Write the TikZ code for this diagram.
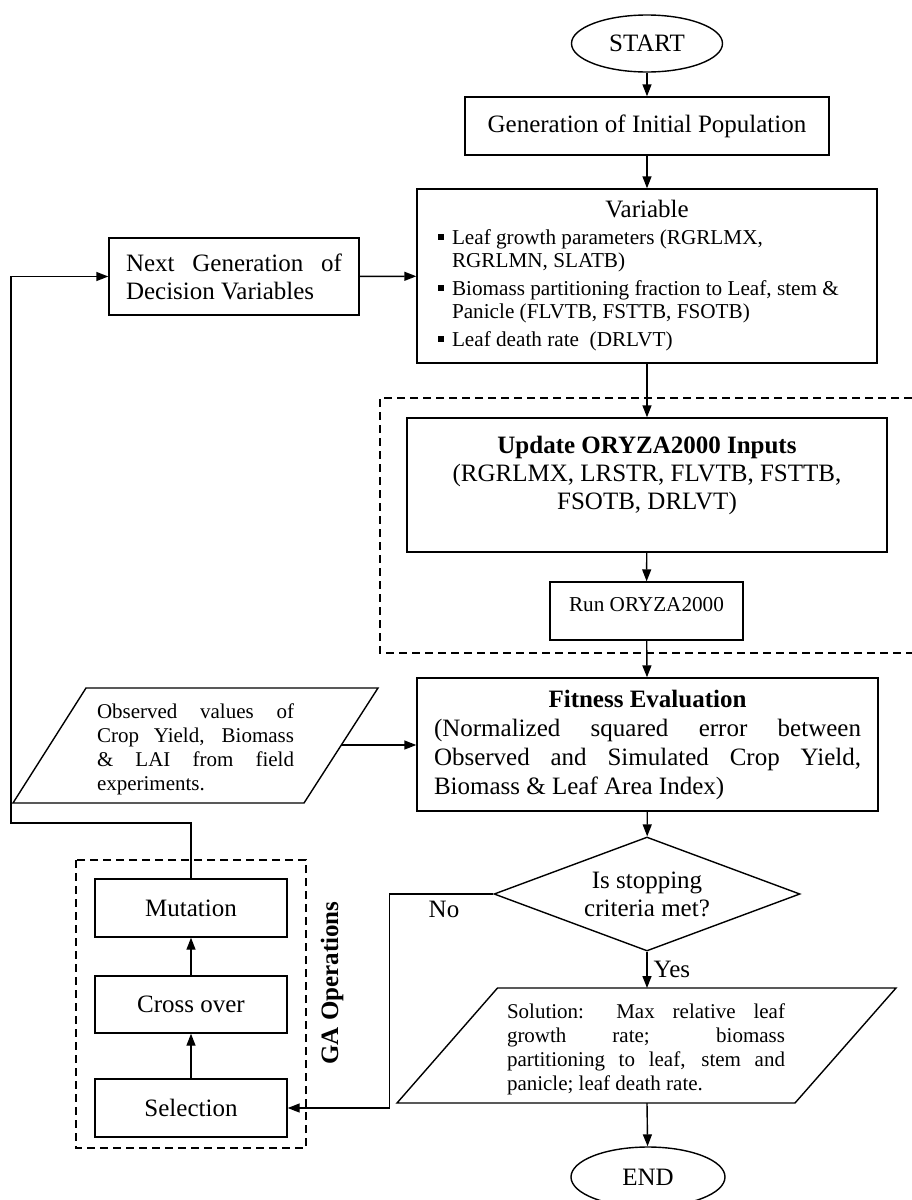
\documentclass[tikz,border=0pt]{standalone}
\usepackage{fontspec}
\setmainfont{Liberation Serif}
\usetikzlibrary{shapes.geometric,arrows.meta}

\newcommand{\mainsize}{\fontsize{12.5pt}{14pt}\selectfont}
\newcommand{\smallsize}{\fontsize{10.5pt}{12pt}\selectfont}
\newcommand{\itemsize}{\fontsize{10.6pt}{11.5pt}\selectfont}
\newcommand{\sqbul}{\makebox[7pt][l]{\rule[2.5pt]{3.2pt}{3.2pt}}}

\tikzset{
	box/.style={draw, line width=0.7pt, font=\mainsize, inner sep=0pt},
	term/.style={ellipse, draw, line width=0.7pt, font=\mainsize, inner sep=0pt},
	conn/.style={-{Triangle[length=6pt,width=4.5pt]}, line width=0.7pt},
	plain/.style={line width=0.7pt},
	dashbox/.style={line width=0.7pt, dash pattern=on 4pt off 2.5pt}
}

\begin{document}
\begin{tikzpicture}[x=0.5pt, y=-0.5pt]
			\useasboundingbox (0,0) rectangle (911,1200);
			% main column
			\node[term, minimum width=75.5pt, minimum height=28.5pt] (start) at (647,43.5) {START};
			\node[box, minimum width=182pt, minimum height=29pt] (gen) at (647,126) {Generation of Initial Population};
			\node[box, minimum width=230pt, minimum height=87pt] (var) at (647,276) {\parbox{209pt}{\raggedright
				\hfill Variable\hfill\null\par\vspace{2pt}
				{\itemsize \sqbul Leaf growth parameters (RGRLMX,\\\hspace*{7pt}RGRLMN, SLATB)\par\vspace{2.5pt}
				\sqbul Biomass partitioning fraction to Leaf, stem \&\\\hspace*{7pt}Panicle (FLVTB, FSTTB, FSOTB)\par\vspace{2.5pt}
				\sqbul Leaf death rate\ \ (DRLVT)\par}}};
			\node[box, minimum width=125pt, minimum height=38.5pt, text width=108pt, align=justify] (next) at (234,276.5) {Next Generation of\linebreak Decision Variables};
			\node[box, minimum width=240pt, minimum height=67pt, align=center] (upd) at (647,485) {\textbf{Update ORYZA2000 Inputs}\\(RGRLMX, LRSTR, FLVTB, FSTTB,\\FSOTB, DRLVT)\\[-2pt]\mbox{}};
			\node[box, minimum width=96.5pt, minimum height=29pt, font=\itemsize, text depth=7pt] (run) at (646.5,611) {Run ORYZA2000};
			\node[box, minimum width=230.5pt, minimum height=66.5pt, text width=213.5pt, align=justify, font=\fontsize{12.5pt}{14.5pt}\selectfont] (fit) at (647.5,744.5) {%
				\hfill\textbf{Fitness Evaluation}\hfill\null\par
				(Normalized squared error between\linebreak Observed and Simulated Crop Yield,\linebreak Biomass \& Leaf Area Index)};
			\node[diamond, draw, plain, aspect=2.68, inner sep=0pt, minimum width=153pt, minimum height=57pt, align=center, font=\mainsize] (dec) at (647,894) {Is stopping\\criteria met?};
			\node[font=\smallsize, text width=139pt, align=justify, inner sep=0pt] (sol) at (646,1049) {Solution: Max relative leaf\linebreak growth rate; biomass\linebreak partitioning to leaf, stem and\linebreak panicle; leaf death rate.};
			\draw[plain] (497.5,988) -- (896,988) -- (795,1103) -- (397,1103) -- cycle;
			\coordinate (solT) at (647,988);
			\coordinate (solB) at (647,1103);
			\node[term, minimum width=77pt, minimum height=30pt] (end) at (648,1177) {END};
			% observed data
			\node[font=\smallsize, text width=98.5pt, align=justify, inner sep=0pt] (obs) at (195.5,749) {Observed values of\linebreak Crop Yield, Biomass\linebreak \& LAI from field\linebreak experiments.};
			\draw[plain] (86,688) -- (378,688) -- (304,803) -- (13,803) -- cycle;
			\coordinate (obsR) at (341,745);
			% GA operations
			\node[box, minimum width=96pt, minimum height=29pt] (mut) at (191,908) {Mutation};
			\node[box, minimum width=96pt, minimum height=28.5pt] (cross) at (191,1004.5) {Cross over};
			\node[box, minimum width=96pt, minimum height=29pt] (sel) at (191,1108) {Selection};
			\node[rotate=90, font=\mainsize\bfseries] (gaops) at (332,983) {GA Operations};
			\draw[dashbox] (76,860) rectangle (306,1148);
			\draw[dashbox] (925,398) -- (380,398) -- (380,653) -- (925,653);
			% connectors
			\draw[conn] (start) -- (gen);
			\draw[conn] (gen) -- (var);
			\draw[conn] (var) -- (upd);
			\draw[conn] (upd) -- (run);
			\draw[conn] (run) -- (fit);
			\draw[conn] (fit) -- (dec);
			\draw[conn] (dec) -- node[right, font=\mainsize, inner sep=3pt] (yes) {Yes} (solT);
			\draw[conn] (solB) -- (end);
			\draw[conn] (obsR) -- (fit.west |- obsR);
			\draw[conn] (next) -- (var);
			\draw[conn] (dec.west) -- ++(-104,0) |- (sel.east);
			\node[font=\mainsize] (no) at (444,909) {No};
			\draw[conn] (sel) -- (cross);
			\draw[conn] (cross) -- (mut);
			\draw[conn] (mut.north) |- (11,823) |- (next.west);
\end{tikzpicture}
\end{document}
